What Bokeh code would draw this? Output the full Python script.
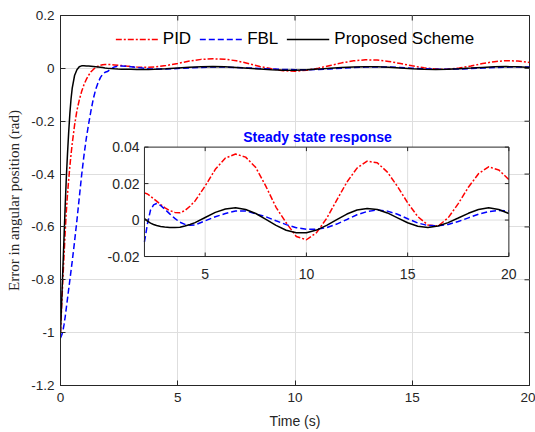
import math
from bokeh.plotting import figure
from bokeh.models import Range1d, FixedTicker, Legend, LegendItem
from bokeh.core.properties import value
from bokeh.embed import file_html
from bokeh.resources import INLINE

# ---------------- data ----------------
t = [0, 0.05, 0.1, 0.15, 0.2, 0.25, 0.3, 0.35, 0.4, 0.45, 0.5,
     0.6, 0.7, 0.8, 0.9, 1.0, 1.1, 1.2, 1.3, 1.4, 1.5, 1.6, 1.7, 1.8, 1.9, 2.0,
     2.15, 2.3, 2.45, 2.6, 2.8,
     3.0, 3.25, 3.5, 3.75, 4.0, 4.25, 4.5,
     5.0, 5.5, 6.0, 6.5, 7.0, 7.5, 8.0, 8.5, 9.0, 9.5, 10.0, 10.5, 11.0, 11.5,
     12.0, 12.5, 13.0, 13.5, 14.0, 14.5, 15.0, 15.5, 16.0, 16.5, 17.0, 17.5,
     18.0, 18.5, 19.0, 19.5, 20.0]

pid = [-1.0, -0.9, -0.8, -0.71, -0.62, -0.54, -0.475, -0.42, -0.37, -0.325, -0.285,
       -0.215, -0.16, -0.12, -0.088, -0.062, -0.042, -0.026, -0.013, -0.004, 0.003,
       0.008, 0.0115, 0.0138, 0.0148, 0.0149,
       0.0143, 0.0130, 0.0117, 0.0104, 0.0085,
       0.0068, 0.0052, 0.0042, 0.0040, 0.0052, 0.0076, 0.0105,
       0.0187, 0.0278, 0.0340, 0.0362, 0.0345, 0.0288, 0.0185, 0.0070, -0.0015,
       -0.0090, -0.0108, -0.0069, 0.0009, 0.0109, 0.0208, 0.0285, 0.0323, 0.0314,
       0.0263, 0.0184, 0.0095, 0.0019, -0.0027, -0.0033, 0.0012, 0.0090, 0.0180,
       0.0254, 0.0292, 0.0275, 0.0222]

fbl = [-1.02, -1.01, -0.995, -0.97, -0.94, -0.905, -0.87, -0.835, -0.80, -0.765, -0.73,
       -0.655, -0.575, -0.49, -0.405, -0.33, -0.265, -0.21, -0.16, -0.115, -0.08,
       -0.055, -0.035, -0.022, -0.015, -0.012,
       -0.002, 0.0055, 0.0083, 0.0091, 0.0080,
       0.0060, 0.0034, 0.0009, -0.0012, -0.0024, -0.0028, -0.0027,
       -0.0004, 0.0018, 0.0036, 0.0050, 0.0050, 0.0034, 0.0018, -0.0004, -0.0025,
       -0.0042, -0.0050, -0.0050, -0.0042, -0.0022, 0.0003, 0.0029, 0.0047, 0.0055,
       0.0049, 0.0032, 0.0007, -0.0016, -0.0030, -0.0032, -0.0024, -0.0008, 0.0012,
       0.0032, 0.0046, 0.0053, 0.0049]

proposed = [-1.0, -0.88, -0.76, -0.64, -0.52, -0.41, -0.32, -0.24, -0.17, -0.115, -0.075,
            -0.027, -0.005, 0.006, 0.0095, 0.0098, 0.0093, 0.0086, 0.0078, 0.0069, 0.0060,
            0.0051, 0.0040, 0.0029, 0.0018, 0.0008,
            -0.0006, -0.0017, -0.0024, -0.0030, -0.0035,
            -0.0038, -0.0041, -0.0041, -0.0039, -0.0033, -0.0024, -0.0014,
            0.0014, 0.0042, 0.0061, 0.0068, 0.0058, 0.0036, 0.0004, -0.0029, -0.0056,
            -0.0070, -0.0070, -0.0055, -0.0029, 0.0002, 0.0033, 0.0055, 0.0064, 0.0058,
            0.0039, 0.0012, -0.0015, -0.0034, -0.0041, -0.0033, -0.0014, 0.0011, 0.0037,
            0.0058, 0.0067, 0.0058, 0.0036]

series_names = ["PID", "FBL", "Proposed Scheme"]

main_xlim = (0, 20)
main_ylim = (-1.2, 0.2)
main_xticks = [0, 5, 10, 15, 20]
main_yticks = [-1.2, -1.0, -0.8, -0.6, -0.4, -0.2, 0, 0.2]
main_ytick_labels = ["-1.2", "-1", "-0.8", "-0.6", "-0.4", "-0.2", "0", "0.2"]

inset_xlim = (2, 20)
inset_ylim = (-0.02, 0.04)
inset_xticks = [5, 10, 15, 20]
inset_xtick_labels = ["5", "10", "15", "20"]
inset_yticks = [-0.02, 0, 0.02, 0.04]
inset_ytick_labels = ["-0.02", "0", "0.02", "0.04"]
inset_title = "Steady state response"

# ---------------- styling ----------------
AX = "#262626"
GRID = "#dedede"
SANS = "Liberation Sans"
SERIF = "Liberation Serif"
RED = "#ff0000"
BLUE = "#0000ff"
BLACK = "#000000"

p = figure(width=535, height=432,
           x_range=Range1d(*main_xlim), y_range=Range1d(*main_ylim),
           output_backend="svg", toolbar_location=None,
           min_border_left=60, min_border_right=6,
           min_border_top=15, min_border_bottom=47)
p.background_fill_color = "white"
p.border_fill_color = "white"
p.outline_line_color = AX
p.outline_line_width = 1

for ax in (p.xaxis[0], p.yaxis[0]):
    ax.axis_line_color = AX
    ax.major_tick_line_color = AX
    ax.major_tick_in = 5
    ax.major_tick_out = 0
    ax.minor_tick_line_color = None
    ax.major_label_text_font = SANS
    ax.major_label_text_font_size = "13.5px"
    ax.major_label_text_color = AX

p.xaxis[0].ticker = FixedTicker(ticks=main_xticks)
p.yaxis[0].ticker = FixedTicker(ticks=main_yticks)
p.yaxis[0].major_label_overrides = dict(zip(main_yticks, main_ytick_labels))
p.xaxis[0].major_label_standoff = 7
p.yaxis[0].major_label_standoff = 6

p.xaxis[0].axis_label = "Time (s)"
p.xaxis[0].axis_label_text_font = SANS
p.xaxis[0].axis_label_text_font_size = "14px"
p.xaxis[0].axis_label_text_font_style = "normal"
p.xaxis[0].axis_label_text_color = AX
p.xaxis[0].axis_label_standoff = 8

p.yaxis[0].axis_label = "Error in angular position (rad)"
p.yaxis[0].axis_label_text_font = SERIF
p.yaxis[0].axis_label_text_font_size = "15px"
p.yaxis[0].axis_label_text_font_style = "normal"
p.yaxis[0].axis_label_text_color = AX
p.yaxis[0].axis_label_standoff = 6

p.xgrid[0].ticker = FixedTicker(ticks=main_xticks)
p.ygrid[0].ticker = FixedTicker(ticks=main_yticks)
p.xgrid.grid_line_color = GRID
p.ygrid.grid_line_color = GRID

# inward ticks on the top and right edges of the main box
p.ray(x=main_xticks, y=[main_ylim[1]] * len(main_xticks), length=5,
      angle=-math.pi / 2, length_units="screen", line_color=AX)
p.ray(x=[main_xlim[1]] * len(main_yticks), y=main_yticks, length=5,
      angle=math.pi, length_units="screen", line_color=AX)

# ---------------- main curves ----------------
r_pid = p.line(t, pid, line_color=RED, line_width=1.5, line_dash="6 2 2 2")
r_fbl = p.line(t, fbl, line_color=BLUE, line_width=1.5, line_dash="6 3")
r_pro = p.line(t, proposed, line_color=BLACK, line_width=1.5)

legend = Legend(items=[LegendItem(label=series_names[0], renderers=[r_pid]),
                       LegendItem(label=series_names[1], renderers=[r_fbl]),
                       LegendItem(label=series_names[2], renderers=[r_pro])],
                location="top_center", orientation="horizontal",
                label_text_font=SANS, label_text_font_size="17px",
                label_text_color=BLACK, glyph_width=43, glyph_height=20,
                label_height=20, label_standoff=5, spacing=8, padding=4,
                margin=10, border_line_alpha=0, background_fill_alpha=0)
p.add_layout(legend)

# ---------------- inset ----------------
sub = p.subplot(x_source=Range1d(*inset_xlim), y_source=Range1d(*inset_ylim),
                x_target=Range1d(3.58, 19.12), y_target=Range1d(-0.712, -0.298))

sub.quad(left=[inset_xlim[0]], right=[inset_xlim[1]],
         bottom=[inset_ylim[0]], top=[inset_ylim[1]],
         fill_color="white", line_color=None)

gx = [x for x in inset_xticks if inset_xlim[0] < x < inset_xlim[1]]
gy = [y for y in inset_yticks if inset_ylim[0] < y < inset_ylim[1]]
sub.segment(x0=gx, y0=[inset_ylim[0]] * len(gx), x1=gx, y1=[inset_ylim[1]] * len(gx),
            line_color=GRID, line_width=1)
sub.segment(x0=[inset_xlim[0]] * len(gy), y0=gy, x1=[inset_xlim[1]] * len(gy), y1=gy,
            line_color=GRID, line_width=1)

idx = [i for i, v in enumerate(t) if v >= inset_xlim[0]]
ti = [t[i] for i in idx]
sub.line(ti, [pid[i] for i in idx], line_color=RED, line_width=1.5, line_dash="6 2 2 2")
sub.line(ti, [fbl[i] for i in idx], line_color=BLUE, line_width=1.5, line_dash="6 3")
sub.line(ti, [proposed[i] for i in idx], line_color=BLACK, line_width=1.5)

sub.quad(left=[inset_xlim[0]], right=[inset_xlim[1]],
         bottom=[inset_ylim[0]], top=[inset_ylim[1]],
         fill_color=None, line_color=AX, line_width=1)

# inward ticks on all four sides of the inset
sub.ray(x=inset_xticks, y=[inset_ylim[0]] * len(inset_xticks), length=4,
        angle=math.pi / 2, length_units="screen", line_color=AX)
sub.ray(x=inset_xticks, y=[inset_ylim[1]] * len(inset_xticks), length=4,
        angle=-math.pi / 2, length_units="screen", line_color=AX)
sub.ray(x=[inset_xlim[0]] * len(inset_yticks), y=inset_yticks, length=4,
        angle=0, length_units="screen", line_color=AX)
sub.ray(x=[inset_xlim[1]] * len(inset_yticks), y=inset_yticks, length=4,
        angle=math.pi, length_units="screen", line_color=AX)

sub.text(x=inset_xticks, y=[inset_ylim[0]] * len(inset_xticks), text=inset_xtick_labels,
         text_align="center", text_baseline="middle", y_offset=17,
         text_font=value(SANS), text_font_size="14px", text_color=AX)
sub.text(x=[inset_xlim[0]] * len(inset_yticks), y=inset_yticks, text=inset_ytick_labels,
         text_align="right", text_baseline="middle", x_offset=-5,
         text_font=value(SANS), text_font_size="14px", text_color=AX)
sub.text(x=[10.55], y=[inset_ylim[1]], text=[inset_title],
         text_align="center", text_baseline="middle", y_offset=-10,
         text_font=value(SANS), text_font_size="14px", text_font_style="bold",
         text_color=BLUE)

open("out.html", "w").write(file_html(p, INLINE, "plot"))
